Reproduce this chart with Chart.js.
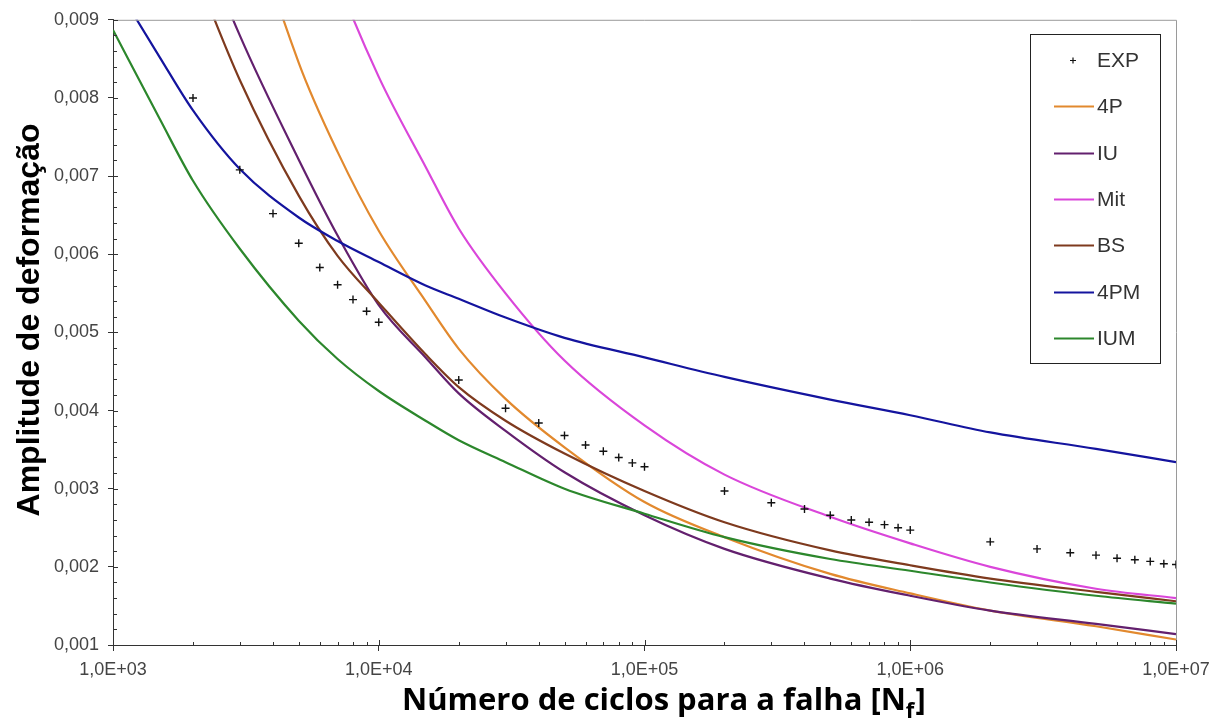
<!DOCTYPE html>
<html>
<head>
<meta charset="utf-8">
<script src="https://cdn.jsdelivr.net/npm/chart.js@4.4.1/dist/chart.umd.min.js"></script>
<style>
  html, body { margin: 0; padding: 0; background: #ffffff; }
  #wrap { width: 1219px; height: 724px; }
</style>
</head>
<body>
<div id="wrap"><canvas id="myChart" width="1219" height="724"></canvas></div>
<script>
// x positions shared by all model curves (number of cycles)
const cycles = [1e3, 1.5e3, 2e3, 3e3, 5e3, 7e3, 1e4, 1.5e4, 2e4, 3e4, 5e4, 1e5, 2e5, 5e5, 1e6, 2e6, 5e6, 1e7];

// strain amplitude for each model
const amp4P  = [0.0180, 0.0150, 0.0132, 0.0108, 0.00845, 0.00731, 0.00630, 0.00540, 0.00479, 0.00415, 0.00353, 0.00283, 0.00238, 0.00191, 0.00166, 0.00144, 0.00124, 0.00107];
const ampIU  = [0.0136, 0.0116, 0.0103, 0.00880, 0.00721, 0.00624, 0.00535, 0.00468, 0.00422, 0.00374, 0.00321, 0.00266, 0.00223, 0.00185, 0.00163, 0.00144, 0.00127, 0.00114];
const ampMit = [0.0200, 0.0170, 0.0155, 0.0134, 0.0110, 0.00952, 0.00827, 0.00712, 0.00633, 0.00550, 0.00464, 0.00381, 0.00318, 0.00264, 0.00230, 0.00200, 0.00172, 0.00160];
const ampBS  = [0.0124, 0.0108, 0.0097, 0.00823, 0.00675, 0.00598, 0.00538, 0.00472, 0.00430, 0.00387, 0.00345, 0.00297, 0.00257, 0.00221, 0.00202, 0.00185, 0.00168, 0.00156];
const amp4PM = [0.0095, 0.00852, 0.00784, 0.00709, 0.00647, 0.00617, 0.00590, 0.00560, 0.00543, 0.00519, 0.00493, 0.00468, 0.00443, 0.00414, 0.00394, 0.00372, 0.00351, 0.00334];
const ampIUM = [0.00887, 0.00773, 0.00694, 0.00607, 0.00515, 0.00466, 0.00425, 0.00387, 0.00362, 0.00334, 0.00300, 0.00268, 0.00238, 0.00210, 0.00195, 0.00180, 0.00163, 0.00153];

// experimental points
const expCycles = [2e3, 3e3, 4e3, 5e3, 6e3, 7e3, 8e3, 9e3, 1e4,
                   2e4, 3e4, 4e4, 5e4, 6e4, 7e4, 8e4, 9e4, 1e5,
                   2e5, 3e5, 4e5, 5e5, 6e5, 7e5, 8e5, 9e5, 1e6,
                   2e6, 3e6, 4e6, 5e6, 6e6, 7e6, 8e6, 9e6, 1e7];
const expAmp = [0.00800, 0.00708, 0.00652, 0.00614, 0.00583, 0.00561, 0.00542, 0.00527, 0.00513,
                0.00439, 0.00403, 0.00384, 0.00368, 0.00356, 0.00348, 0.00340, 0.00333, 0.00328,
                0.00297, 0.00282, 0.00274, 0.00266, 0.00260, 0.00257, 0.00254, 0.00250, 0.00247,
                0.00232, 0.00223, 0.00218, 0.00215, 0.00211, 0.00209, 0.00207, 0.00204, 0.00203];

// axis ticks
const xTickValues = [1e3, 1e4, 1e5, 1e6, 1e7];
const xTickLabels = ['1,0E+03', '1,0E+04', '1,0E+05', '1,0E+06', '1,0E+07'];
const yTickValues = [0.001, 0.002, 0.003, 0.004, 0.005, 0.006, 0.007, 0.008, 0.009];
const yTickLabels = ['0,001', '0,002', '0,003', '0,004', '0,005', '0,006', '0,007', '0,008', '0,009'];

const seriesNames = ['4P', 'IU', 'Mit', 'BS', '4PM', 'IUM'];
const seriesValues = [amp4P, ampIU, ampMit, ampBS, amp4PM, ampIUM];
const seriesColors = ['#E2892E', '#63206E', '#DA46DA', '#7E3A1E', '#14149E', '#2C872C'];
const seriesOrder = [6, 5, 4, 3, 2, 1];

function toPoints(xs, ys) {
    return xs.map((x, i) => ({ x: x, y: ys[i] }));
}

const datasets = [{
    label: 'EXP',
    data: toPoints(expCycles, expAmp),
    showLine: false,
    pointStyle: 'cross',
    pointRadius: 4,
    pointBorderWidth: 1.4,
    borderColor: '#111',
    backgroundColor: '#111',
    order: 0
}];
seriesNames.forEach((name, i) => {
    datasets.push({
        label: name,
        data: toPoints(cycles, seriesValues[i]),
        borderColor: seriesColors[i],
        backgroundColor: seriesColors[i],
        borderWidth: 2.2,
        pointRadius: 0,
        fill: false,
        cubicInterpolationMode: 'monotone',
        order: seriesOrder[i]
    });
});

// inside tick marks, top/right frame, axis titles
const frameAndTicks = {
    id: 'frameAndTicks',
    afterDraw(chart) {
        const ctx = chart.ctx;
        const a = chart.chartArea;
        const xs = chart.scales.x;
        const ys = chart.scales.y;
        ctx.save();
        // gray top and right frame
        ctx.strokeStyle = '#9a9a9a';
        ctx.lineWidth = 1;
        ctx.beginPath();
        ctx.moveTo(a.left, a.top + 0.5);
        ctx.lineTo(a.right + 0.5, a.top + 0.5);
        ctx.lineTo(a.right + 0.5, a.bottom);
        ctx.stroke();

        ctx.strokeStyle = '#333';
        ctx.beginPath();
        // x minor / major inner ticks
        for (let k = 3; k < 7; k++) {
            for (let m = 1; m <= 10; m++) {
                const px = Math.round(xs.getPixelForValue(m * Math.pow(10, k))) + 0.5;
                const len = (m === 1 || m === 10) ? 5 : 3;
                ctx.moveTo(px, a.bottom);
                ctx.lineTo(px, a.bottom - len);
            }
        }
        // y minor / major inner ticks
        for (let i = 0; i <= 40; i++) {
            const v = 0.001 + i * 0.0002;
            const py = Math.round(ys.getPixelForValue(v)) + 0.5;
            const len = (i % 5 === 0) ? 5 : 4;
            ctx.moveTo(a.left, py);
            ctx.lineTo(a.left + len, py);
        }
        ctx.stroke();

        // y axis title
        ctx.fillStyle = '#000';
        ctx.font = 'bold 32px "Liberation Sans", Arial, sans-serif';
        ctx.textAlign = 'center';
        ctx.textBaseline = 'middle';
        ctx.translate(30, 320);
        ctx.rotate(-Math.PI / 2);
        ctx.fillText('Amplitude de deformação', 0, 0);
        ctx.setTransform(1, 0, 0, 1, 0, 0);

        // x axis title with subscript
        ctx.textAlign = 'left';
        ctx.textBaseline = 'alphabetic';
        const big = 'bold 31px "Open Sans", Lato, sans-serif';
        const small = 'bold 22px "Open Sans", Lato, sans-serif';
        let x = 402;
        const base = 710;
        ctx.font = big;
        const part1 = 'Número de ciclos para a falha [N';
        ctx.fillText(part1, x, base);
        x += ctx.measureText(part1).width;
        ctx.font = small;
        ctx.fillText('f', x, base + 8);
        x += ctx.measureText('f').width + 1;
        ctx.font = big;
        ctx.fillText(']', x, base);
        ctx.restore();
    }
};

// boxed legend inside the plot area
const boxLegend = {
    id: 'boxLegend',
    afterDraw(chart) {
        const ctx = chart.ctx;
        ctx.save();
        ctx.fillStyle = '#fff';
        ctx.fillRect(1031, 35, 129, 328);
        ctx.strokeStyle = '#222';
        ctx.lineWidth = 1;
        ctx.strokeRect(1030.5, 34.5, 130, 329);
        ctx.font = '21px "Liberation Sans", Arial, sans-serif';
        ctx.textAlign = 'left';
        ctx.textBaseline = 'middle';
        chart.data.datasets.forEach((ds, i) => {
            const y = Math.round(60 + i * 46.3) + 0.5;
            if (ds.showLine === false) {
                ctx.strokeStyle = ds.borderColor;
                ctx.lineWidth = 1.2;
                ctx.beginPath();
                ctx.moveTo(1070, y); ctx.lineTo(1076, y);
                ctx.moveTo(1073, y - 3); ctx.lineTo(1073, y + 3);
                ctx.stroke();
            } else {
                ctx.strokeStyle = ds.borderColor;
                ctx.lineWidth = 2;
                ctx.beginPath();
                ctx.moveTo(1054, y); ctx.lineTo(1094, y);
                ctx.stroke();
            }
            ctx.fillStyle = '#333';
            ctx.fillText(ds.label, 1097, y + 1);
        });
        ctx.restore();
    }
};

Chart.defaults.font.family = '"Liberation Sans", Arial, sans-serif';

const ctx = document.getElementById('myChart').getContext('2d');
new Chart(ctx, {
    type: 'line',
    data: { datasets: datasets },
    options: {
        responsive: false,
        animation: false,
        layout: { padding: { top: 19, right: 43, left: 0, bottom: 0 } },
        plugins: {
            legend: { display: false },
            tooltip: { enabled: false }
        },
        scales: {
            x: {
                type: 'logarithmic',
                min: 1e3,
                max: 1e7,
                afterBuildTicks: scale => { scale.ticks = xTickValues.map(v => ({ value: v })); },
                afterFit: scale => { scale.height = 79; },
                ticks: {
                    color: '#444',
                    font: { size: 18 },
                    padding: 8,
                    maxRotation: 0,
                    autoSkip: false,
                    callback: v => xTickLabels[xTickValues.indexOf(v)]
                },
                grid: { drawOnChartArea: false, tickLength: 6, color: '#333' },
                border: { color: '#333', width: 1 }
            },
            y: {
                type: 'linear',
                min: 0.001,
                max: 0.009,
                afterBuildTicks: scale => { scale.ticks = yTickValues.map(v => ({ value: v })); },
                afterFit: scale => { scale.width = 113; },
                ticks: {
                    color: '#444',
                    font: { size: 18 },
                    padding: 9,
                    callback: v => yTickLabels[yTickValues.indexOf(v)]
                },
                grid: { drawOnChartArea: false, tickLength: 5, color: '#333' },
                border: { color: '#333', width: 1 }
            }
        }
    },
    plugins: [frameAndTicks, boxLegend]
});
</script>
</body>
</html>
